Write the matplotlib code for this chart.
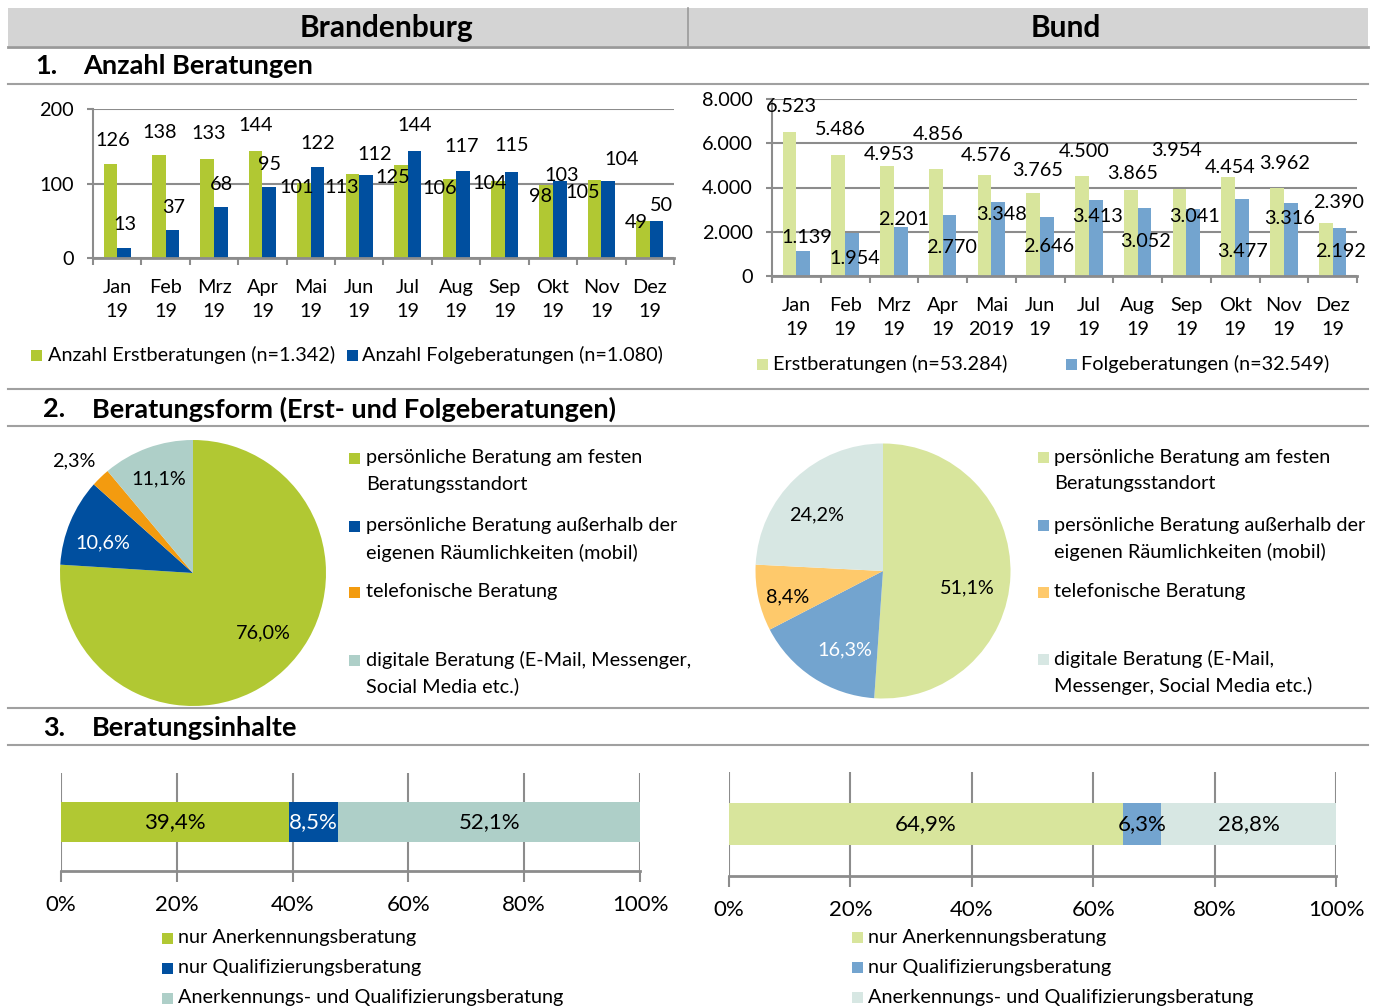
import matplotlib
matplotlib.use("Agg")
import matplotlib.pyplot as plt
from matplotlib.patches import Rectangle
from matplotlib.lines import Line2D
import numpy as np

# ===== data =====
monate_bb = ["Jan\n19", "Feb\n19", "Mrz\n19", "Apr\n19", "Mai\n19", "Jun\n19",
             "Jul\n19", "Aug\n19", "Sep\n19", "Okt\n19", "Nov\n19", "Dez\n19"]
monate_bund = ["Jan\n19", "Feb\n19", "Mrz\n19", "Apr\n19", "Mai\n2019", "Jun\n19",
               "Jul\n19", "Aug\n19", "Sep\n19", "Okt\n19", "Nov\n19", "Dez\n19"]
bb_erst = [126, 138, 133, 144, 101, 113, 125, 106, 104, 98, 105, 49]
bb_folge = [13, 37, 68, 95, 122, 112, 144, 117, 115, 103, 104, 50]
bund_erst = [6523, 5486, 4953, 4856, 4576, 3765, 4500, 3865, 3954, 4454, 3962, 2390]
bund_folge = [1139, 1954, 2201, 2770, 3348, 2646, 3413, 3052, 3041, 3477, 3316, 2192]
bb_legend = ["Anzahl Erstberatungen (n=1.342)", "Anzahl Folgeberatungen (n=1.080)"]
bund_legend = ["Erstberatungen (n=53.284)", "Folgeberatungen (n=32.549)"]

form_bb = ["persönliche Beratung am festen\nBeratungsstandort",
           "persönliche Beratung außerhalb der\neigenen Räumlichkeiten (mobil)",
           "telefonische Beratung",
           "digitale Beratung (E-Mail, Messenger,\nSocial Media etc.)"]
form_bund = ["persönliche Beratung am festen\nBeratungsstandort",
             "persönliche Beratung außerhalb der\neigenen Räumlichkeiten (mobil)",
             "telefonische Beratung",
             "digitale Beratung (E-Mail,\nMessenger, Social Media etc.)"]
bb_form = [76.0, 10.6, 2.3, 11.1]
bund_form = [51.1, 16.3, 8.4, 24.2]

inhalt = ["nur Anerkennungsberatung", "nur Qualifizierungsberatung",
          "Anerkennungs- und Qualifizierungsberatung"]
bb_inhalt = [39.4, 8.5, 52.1]
bund_inhalt = [64.9, 6.3, 28.8]
pct_ticks = [0, 20, 40, 60, 80, 100]

# label nudges (pixels) as placed in the original
bb_e_dx = [2, 1, 1, 0, -7, -11, -8, -10, -8, -6, -12, -7]
bb_e_dy = [24, 23, 25, 25, -5, -14, -13, -9, -3, -12, -13, -1]
bb_f_dx = [1, 1, 1, 0, 0, 9, 0, -1, 0, 2, 13, 5]
bb_f_dy = [24, 23, 23, 23, 24, 20, 25, 24, 27, 6, 21, 15]
bu_e_dx = [2, 2, 2, 2, 2, 4, 2, 2, -3, 2, 8, 13]
bu_e_dy = [25, 25, 12, 34, 19, 22, 25, 17, 38, 10, 25, 21]
bu_f_dx = [4, 3, 3, 2, 3, 2, 2, 1, 1, 1, -1, 1]
bu_f_dy = [13, -26, 8, -33, -13, -29, -16, -33, -8, -52, -16, -24]

# ===== colours =====
BB = ["#b1c833", "#004f9f", "#f39b0f", "#aecfc8"]
BU = ["#d8e59c", "#73a4cf", "#fec96b", "#d7e7e3"]
GRID = "#8c8c8c"
SEP = "#a0a0a0"

plt.rcParams["font.family"] = ["Lato", "DejaVu Sans"]
FS = 14.3
FS3 = 16
FT = 19.5

W, H = 1376, 1007
fig = plt.figure(figsize=(W / 100, H / 100), dpi=100)


def add_ax(x0, y0, x1, y1):
    return fig.add_axes([x0 / W, 1 - y1 / H, (x1 - x0) / W, (y1 - y0) / H])


def ftext(x, y, s, **kw):
    kw.setdefault("va", "center")
    kw.setdefault("fontsize", FS)
    fig.text(x / W, 1 - y / H, s, **kw)


def hline(y, x0=8, x1=1368, color=SEP, lw=1.5):
    fig.add_artist(Line2D([x0 / W, x1 / W], [1 - y / H, 1 - y / H], color=color, lw=lw))


def square(x, y, c, s=11):
    fig.add_artist(Rectangle((x / W, 1 - (y + s / 2) / H), s / W, s / H,
                             transform=fig.transFigure, color=c, lw=0))


def de_int(v):
    return f"{v:,}".replace(",", ".")


def de_pct(v):
    return f"{v:.1f}%".replace(".", ",")


# ===== header + separators =====
fig.add_artist(Rectangle((8 / W, 1 - 46 / H), 1360 / W, 38 / H,
                         transform=fig.transFigure, color="#d4d4d4", lw=0))
hline(46.5, color="#999999", lw=2)
fig.add_artist(Line2D([688 / W, 688 / W], [1 - 8 / H, 1 - 46 / H], color="#9a9a9a", lw=1.2))
ftext(386, 28, "Brandenburg", ha="center", fontsize=21.5, fontweight="bold")
ftext(1066, 28, "Bund", ha="center", fontsize=21.5, fontweight="bold")

ftext(35, 66, "1.", fontsize=FT, fontweight="bold")
ftext(83, 66, "Anzahl Beratungen", fontsize=FT, fontweight="bold")
hline(84)
hline(389)
ftext(43, 409, "2.", fontsize=FT, fontweight="bold")
ftext(92, 409, "Beratungsform (Erst- und Folgeberatungen)", fontsize=FT, fontweight="bold")
hline(426)
hline(708)
ftext(43, 728, "3.", fontsize=FT, fontweight="bold")
ftext(92, 728, "Beratungsinhalte", fontsize=FT, fontweight="bold")
hline(745)


# ===== 1. monthly bars =====
def monthly(ax, erst, folge, cols, ymax, step, labels, e_dx, e_dy, f_dx, f_dy):
    x = np.arange(len(erst))
    bw = 0.28
    b1 = ax.bar(x - bw / 2, erst, bw, color=cols[0], lw=0, zorder=2)
    b2 = ax.bar(x + bw / 2, folge, bw, color=cols[1], lw=0, zorder=2)
    for bars, vals, dxs, dys in ((b1, erst, e_dx, e_dy), (b2, folge, f_dx, f_dy)):
        for r, v, dx, dy in zip(bars, vals, dxs, dys):
            ax.annotate(de_int(v), (r.get_x() + r.get_width() / 2, v), xytext=(dx, dy),
                        textcoords="offset pixels", ha="center", va="center",
                        fontsize=FS, zorder=3, annotation_clip=False)
    ticks = np.arange(0, ymax + 1, step)
    ax.set_xlim(-0.5, len(erst) - 0.5)
    ax.set_ylim(0, ymax)
    ax.set_yticks(ticks)
    ax.set_yticklabels([de_int(int(v)) for v in ticks])
    ax.yaxis.grid(True, color=GRID, lw=1.5)
    ax.set_axisbelow(True)
    ax.set_xticks(x)
    ax.set_xticklabels(labels)
    ax.set_xticks(np.arange(-0.5, len(erst), 1), minor=True)
    ax.tick_params(axis="x", which="major", length=0, pad=15, labelsize=FS)
    ax.tick_params(axis="x", which="minor", length=5, width=1.5, color=GRID)
    ax.tick_params(axis="y", length=4, width=1.5, color=GRID, pad=10, labelsize=FS)
    for lbl in ax.get_xticklabels():
        lbl.set_linespacing(1.52)
    for s in ("top", "right"):
        ax.spines[s].set_visible(False)
    ax.spines["left"].set_color(GRID)
    ax.spines["left"].set_linewidth(1.5)
    ax.spines["bottom"].set_color(GRID)
    ax.spines["bottom"].set_linewidth(2)


ax1 = add_ax(93, 109, 674, 258)
monthly(ax1, bb_erst, bb_folge, BB, 200, 100, monate_bb,
        bb_e_dx, bb_e_dy, bb_f_dx, bb_f_dy)
ax2 = add_ax(772, 99, 1357, 276)
monthly(ax2, bund_erst, bund_folge, BU, 8000, 2000, monate_bund,
        bu_e_dx, bu_e_dy, bu_f_dx, bu_f_dy)

square(31, 355, BB[0])
ftext(48, 355, bb_legend[0])
square(347, 355, BB[1])
ftext(362, 355, bb_legend[1])
square(757, 364, BU[0])
ftext(773, 364, bund_legend[0])
square(1066, 364, BU[1])
ftext(1081, 364, bund_legend[1])


# ===== 2. pies =====
def pie(ax, vals, cols, pos, tcols):
    ax.pie(vals, colors=cols, startangle=90, counterclock=False,
           wedgeprops=dict(linewidth=0))
    for v, (px, py), tc in zip(vals, pos, tcols):
        ax.text(px, py, de_pct(v), ha="center", va="center", color=tc, fontsize=FS)
    ax.set_xlim(-1, 1)
    ax.set_ylim(-1, 1)


ax3 = add_ax(60, 440, 326, 706)
pie(ax3, bb_form, BB, [(0.53, -0.45), (-0.68, 0.23), (-0.90, 0.84), (-0.26, 0.71)],
    ["black", "white", "black", "black"])
ax4 = add_ax(755.5, 443.5, 1010.5, 698.5)
pie(ax4, bund_form, BU, [(0.66, -0.13), (-0.30, -0.62), (-0.75, -0.20), (-0.52, 0.44)],
    ["black", "white", "black", "black"])

for lab, c, y in zip(form_bb, BB, [458, 526, 592, 660]):
    square(349, y, c)
    for k, ln in enumerate(lab.split("\n")):
        ftext(366, y + 26.5 * k, ln)
for lab, c, y in zip(form_bund, BU, [457, 525, 592, 659]):
    square(1038, y, c)
    for k, ln in enumerate(lab.split("\n")):
        ftext(1054, y + 26.5 * k, ln)


# ===== 3. stacked bars =====
def stacked(ax, vals, cols, tcols):
    left = 0
    for v, c, tc in zip(vals, cols, tcols):
        ax.barh(0, v, left=left, height=0.41, color=c, lw=0, zorder=2)
        ax.text(left + v / 2, 0, de_pct(v), ha="center", va="center", color=tc,
                fontsize=FS3, zorder=3)
        left += v
    ax.set_xlim(0, 100)
    ax.set_ylim(-0.5, 0.5)
    ax.set_xticks(pct_ticks)
    ax.set_xticklabels([f"{t}%" for t in pct_ticks])
    ax.set_yticks([])
    ax.xaxis.grid(True, color=GRID, lw=1.5)
    ax.set_axisbelow(True)
    ax.tick_params(axis="x", length=8, width=1.5, color=GRID, pad=9, labelsize=FS3)
    for s in ("top", "right", "left"):
        ax.spines[s].set_visible(False)
    ax.spines["bottom"].set_color(GRID)
    ax.spines["bottom"].set_linewidth(2)


ax5 = add_ax(61, 773, 640, 871)
stacked(ax5, bb_inhalt, [BB[0], BB[1], BB[3]], ["black", "white", "black"])
ax6 = add_ax(729, 772, 1336, 876)
stacked(ax6, bund_inhalt, [BU[0], BU[1], BU[3]], ["black", "black", "black"])

for lab, c, y in zip(inhalt, [BB[0], BB[1], BB[3]], [938, 968, 998]):
    square(162, y, c)
    ftext(178, y, lab)
for lab, c, y in zip(inhalt, [BU[0], BU[1], BU[3]], [937, 967, 997]):
    square(852, y, c)
    ftext(868, y, lab)

fig.savefig("out.png", dpi=100)
